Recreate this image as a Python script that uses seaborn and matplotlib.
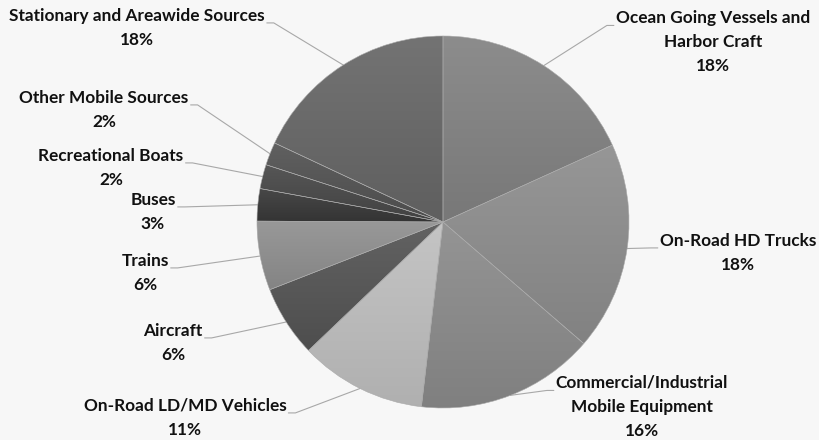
import numpy as np
import pandas as pd
import seaborn as sns
import matplotlib

matplotlib.use("Agg")
from matplotlib import pyplot as plt
from matplotlib.colors import to_rgb

sns.set_theme(style="white")
plt.rcParams["font.family"] = ["Lato", "DejaVu Sans"]

# data, clockwise from 12 o'clock
categories = [
    "Ocean Going Vessels and Harbor Craft",
    "On-Road HD Trucks",
    "Commercial/Industrial Mobile Equipment",
    "On-Road LD/MD Vehicles",
    "Aircraft",
    "Trains",
    "Buses",
    "Recreational Boats",
    "Other Mobile Sources",
    "Stationary and Areawide Sources",
]
shares = [18.2, 18.1, 15.5, 11.0, 6.2, 6.0, 2.8, 2.1, 2.0, 18.0]
pct_labels = ["18%", "18%", "16%", "11%", "6%", "6%", "3%", "2%", "2%", "18%"]
slice_grays = [
    "#828282", "#8c8c8c", "#8a8a8a", "#bababa", "#585858",
    "#8e8e8e", "#3e3e3e", "#4c4c4c", "#565656", "#696969",
]

# label layout in image pixels (x centre, y centre of block), y measured from top
wrapped = {
    "Ocean Going Vessels and Harbor Craft": "Ocean Going Vessels and\nHarbor Craft",
    "Commercial/Industrial Mobile Equipment": "Commercial/Industrial\nMobile Equipment",
}
label_pos = {
    "Ocean Going Vessels and Harbor Craft": (713, 42),
    "On-Road HD Trucks": (738, 253),
    "Commercial/Industrial Mobile Equipment": (642, 407),
    "On-Road LD/MD Vehicles": (185, 418),
    "Aircraft": (173, 343),
    "Trains": (145, 273),
    "Buses": (153, 212),
    "Recreational Boats": (111, 168),
    "Other Mobile Sources": (104, 110),
    "Stationary and Areawide Sources": (137, 28),
}

W, H = 820, 440
BG = "#f7f7f7"
CX, CY, R = 443, H - 222, 186

df = pd.DataFrame({"category": categories, "share": shares,
                   "pct": pct_labels, "color": slice_grays})

fig = plt.figure(figsize=(W / 100, H / 100), dpi=100, facecolor=BG)
ax = fig.add_axes([0, 0, 1, 1])
ax.set_facecolor(BG)

wedges, _ = ax.pie(
    df["share"], colors=df["color"], startangle=90, counterclock=False,
    center=(CX, CY), radius=R, frame=True,
    wedgeprops=dict(edgecolor="#a9a9a9", linewidth=0.4),
)

# soft vertical gradient inside each slice
t = np.linspace(0, 1, 64)[:, None]
for w, base in zip(wedges, df["color"]):
    ext = w.get_path().get_extents()
    shade = (t - 0.5) * 0.08
    img = np.clip(np.array(to_rgb(base))[None, None, :] + shade[..., None], 0, 1)
    im = ax.imshow(img, extent=(ext.x0, ext.x1, ext.y0, ext.y1), origin="lower",
                   aspect="auto", interpolation="bilinear", zorder=1)
    im.set_clip_path(w)
    w.set_facecolor("none")
    w.set_zorder(2)

ax.set_xlim(0, W)
ax.set_ylim(0, H)
ax.axis("off")

texts = []
for row in df.itertuples():
    x, y = label_pos[row.category]
    name = wrapped.get(row.category, row.category)
    txt = ax.text(x, H - y, f"{name}\n{row.pct}", ha="center", va="center",
                  fontsize=12.4, fontweight="bold", color="#111111",
                  linespacing=1.64, zorder=4)
    texts.append((txt, name.count("\n") + 2))

fig.canvas.draw()
renderer = fig.canvas.get_renderer()
inv = ax.transData.inverted()
for (txt, nlines), w in zip(texts, wedges):
    bb = txt.get_window_extent(renderer).transformed(inv)
    line_h = bb.height / nlines
    sy = bb.y1 - line_h * 0.5 - 5
    theta = np.deg2rad((w.theta1 + w.theta2) / 2)
    ex, ey = CX + R * np.cos(theta), CY + R * np.sin(theta)
    if bb.x0 + bb.width / 2 < CX:
        sx, stub = bb.x1 + 2, bb.x1 + 9
    else:
        sx, stub = bb.x0 - 2, bb.x0 - 9
    ax.plot([sx, stub, ex], [sy, sy, ey], color="#a8a8a8", lw=0.8, zorder=0.5)

fig.savefig("out.png", dpi=100, facecolor=BG)
